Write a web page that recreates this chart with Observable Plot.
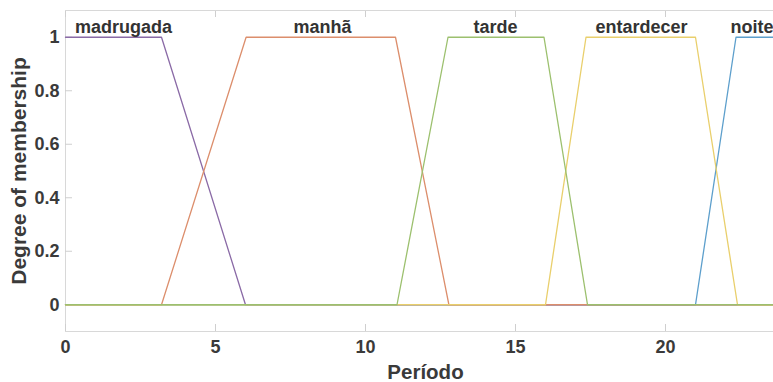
<!DOCTYPE html>
<html>
<head>
<meta charset="utf-8">
<script src="https://cdn.jsdelivr.net/npm/d3@7"></script>
<script src="https://cdn.jsdelivr.net/npm/@observablehq/plot@0.6"></script>
<style>
  html, body { margin: 0; padding: 0; background: #fff; }
  #chart svg { display: block; }
</style>
</head>
<body>
<div id="chart"></div>
<script>
// Membership function names and colours
const names = ["madrugada", "manhã", "tarde", "entardecer", "noite"];
const colors = ["#8a6aa6", "#dc8e6c", "#9cc06e", "#e9cf6c", "#5d9fcc"];

// Breakpoints (x) and membership degrees (y) for each function
const madrugadaX = [0, 3.2, 6, 24];
const madrugadaY = [1, 1, 0, 0];
const manhaX = [0, 3.2, 6.02, 11, 12.78, 24];
const manhaY = [0, 0, 1, 1, 0, 0];
const tardeX = [0, 11.05, 12.75, 15.95, 17.4, 24];
const tardeY = [0, 0, 1, 1, 0, 0];
const entardecerX = [0, 16, 17.35, 21, 22.4, 24];
const entardecerY = [0, 0, 1, 1, 0, 0];
const noiteX = [0, 21, 22.35, 24];
const noiteY = [0, 0, 1, 1];

// Label positions (x in Período units)
const labelX = [1.93, 8.57, 14.33, 19.2, 22.88];

const xTicks = [0, 5, 10, 15, 20];
const yTicks = [0, 0.2, 0.4, 0.6, 0.8, 1];
const yTickLabels = ["0", "0.2", "0.4", "0.6", "0.8", "1"];

const seriesX = [madrugadaX, manhaX, tardeX, entardecerX, noiteX];
const seriesY = [madrugadaY, manhaY, tardeY, entardecerY, noiteY];
const rows = [];
seriesX.forEach((xs, i) => xs.forEach((x, j) => rows.push({name: names[i], x, y: seriesY[i][j]})));
const labels = names.map((n, i) => ({name: n, x: labelX[i], y: 1}));

const drawOrder = ["noite", "madrugada", "manhã", "entardecer", "tarde"];

const chart = Plot.plot({
  width: 773,
  height: 382,
  marginLeft: 65,
  marginRight: -12,
  marginTop: 10,
  marginBottom: 51,
  style: {fontFamily: "'Liberation Sans', Arial, sans-serif", fontWeight: "bold", fontSize: "18px", color: "#3a3a3a", background: "#fff"},
  x: {domain: [0, 24]},
  y: {domain: [-0.1, 1.1]},
  color: {domain: names, range: colors},
  marks: [
    Plot.frame({stroke: "#d8d8d8"}),
    Plot.axisX({ticks: xTicks, anchor: "bottom", tickSize: -7, stroke: "#cfcfcf", text: null, label: null}),
    Plot.axisX({ticks: xTicks, anchor: "top", tickSize: -6, stroke: "#cfcfcf", text: null, label: null}),
    Plot.axisY({ticks: yTicks, anchor: "left", tickSize: -7, stroke: "#cfcfcf", text: null, label: null}),
    Plot.axisX({ticks: xTicks, anchor: "bottom", tickSize: 0, tickPadding: 9, fontSize: 18, tickFormat: d => String(d), label: null}),
    Plot.axisY({ticks: yTicks, anchor: "left", tickSize: 0, tickPadding: 6, fontSize: 18, tickFormat: (d, i) => yTickLabels[yTicks.indexOf(d)], label: null}),
    Plot.axisX({ticks: [], anchor: "bottom", tickSize: 0, fontSize: 20.5, label: "Período", labelAnchor: "center", labelArrow: "none", labelOffset: 47}),
    Plot.axisY({ticks: [], anchor: "left", tickSize: 0, fontSize: 21, letterSpacing: "0.6px", label: "Degree of membership", labelAnchor: "center", labelArrow: "none", labelOffset: 54}),
    ...drawOrder.map(n => Plot.line(rows.filter(r => r.name === n), {x: "x", y: "y", stroke: "name", strokeWidth: 1.3})),
    Plot.text(labels, {x: "x", y: "y", text: "name", textAnchor: "middle", lineAnchor: "bottom", dy: -4, fontSize: 18, fontWeight: "bold", fill: "#333"})
  ]
});
document.getElementById("chart").appendChild(chart);
</script>
</body>
</html>
